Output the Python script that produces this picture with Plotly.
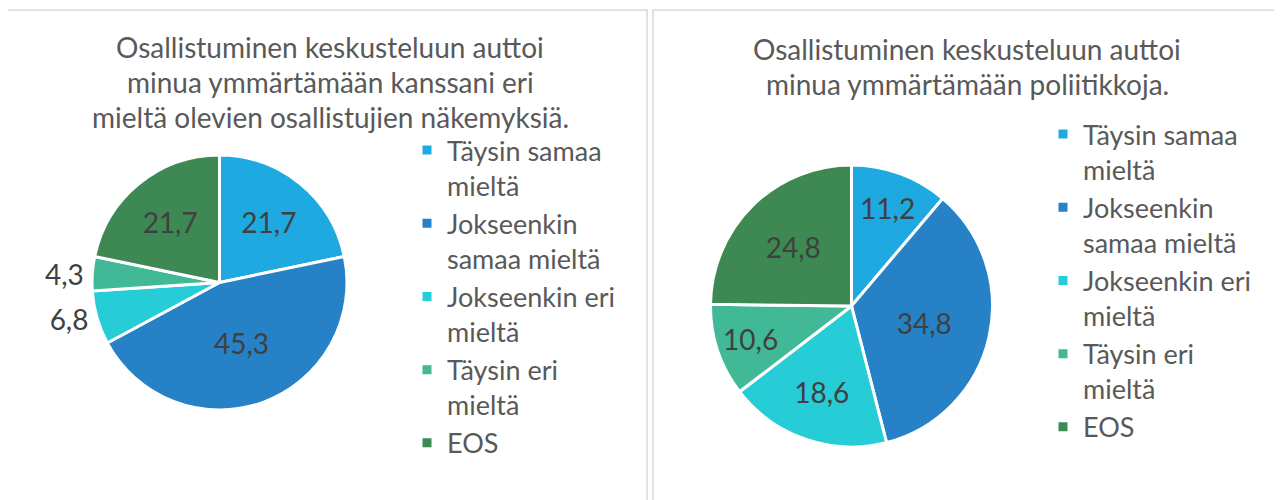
import plotly.graph_objects as go

categories = ["Täysin samaa<br>mieltä", "Jokseenkin<br>samaa mieltä", "Jokseenkin eri<br>mieltä", "Täysin eri<br>mieltä", "EOS"]
colors = ["#1EAAE1", "#2781C6", "#27CDD6", "#42B996", "#3D8853"]

values_left = [21.7, 45.3, 6.8, 4.3, 21.7]
values_right = [11.2, 34.8, 18.6, 10.6, 24.8]

title_left_lines = ["Osallistuminen keskusteluun auttoi",
                    "minua ymmärtämään kanssani eri",
                    "mieltä olevien osallistujien näkemyksiä."]
title_right_lines = ["Osallistuminen keskusteluun auttoi",
                     "minua ymmärtämään poliitikkoja."]

FONT = "Lato"
# page body has an 8px margin; work in reference-pixel coordinates and shift
OX, OY = 8, 8
W, H = 1274, 492

def px(x):
    return (x - OX) / W

def py(y):
    return 1 - (y - OY) / H

def fmt(v):
    return f"{v:.1f}".replace(".", ",")

def dom(cx, cy, r):
    return dict(x=[px(cx - r), px(cx + r)], y=[py(cy + r), py(cy - r)])

fig = go.Figure()
fig.add_trace(go.Pie(
    labels=categories, values=values_left, text=[fmt(v) for v in values_left],
    textinfo="text", sort=False, direction="clockwise", rotation=0,
    marker=dict(colors=colors, line=dict(color="white", width=3)),
    textposition=["inside", "inside", "outside", "outside", "inside"],
    insidetextorientation="horizontal",
    textfont=dict(family=FONT, size=28, color="#404040"),
    domain=dom(219.5, 282.5, 127.5), legend="legend", hoverinfo="label+value",
))
fig.add_trace(go.Pie(
    labels=[c + "\u200b" for c in categories], values=values_right,
    text=[fmt(v) for v in values_right],
    textinfo="text", sort=False, direction="clockwise", rotation=0,
    marker=dict(colors=colors, line=dict(color="white", width=3)),
    textposition="inside", insidetextorientation="horizontal",
    textfont=dict(family=FONT, size=28, color="#404040"),
    domain=dom(851.5, 306, 141), legend="legend2", hoverinfo="label+value",
))

annotations = []
for line, y in zip(title_left_lines, [47, 82, 117]):
    annotations.append(dict(text=line, x=px(330), y=py(y), xref="paper", yref="paper",
                            xanchor="center", yanchor="middle", showarrow=False,
                            font=dict(family=FONT, size=28, color="#595959")))
for line, y in zip(title_right_lines, [49, 84]):
    annotations.append(dict(text=line, x=px(967), y=py(y), xref="paper", yref="paper",
                            xanchor="center", yanchor="middle", showarrow=False,
                            font=dict(family=FONT, size=28, color="#595959")))

legend_style = dict(font=dict(family=FONT, size=27, color="#595959"), valign="top",
                    bgcolor="rgba(0,0,0,0)", xanchor="left", yanchor="top", tracegroupgap=0)
fig.update_layout(
    width=W, height=H, margin=dict(l=0, r=0, t=0, b=0),
    paper_bgcolor="white", plot_bgcolor="white",
    showlegend=True,
    legend=dict(x=px(407), y=py(126), **legend_style),
    legend2=dict(x=px(1043), y=py(110), **legend_style),
    shapes=[
        dict(type="rect", xref="paper", yref="paper", x0=px(5), x1=px(647), y0=py(520), y1=py(10),
             line=dict(color="#D9D9D9", width=1.5), fillcolor="rgba(0,0,0,0)"),
        dict(type="rect", xref="paper", yref="paper", x0=px(653), x1=px(1280), y0=py(520), y1=py(10),
             line=dict(color="#D9D9D9", width=1.5), fillcolor="rgba(0,0,0,0)"),
    ],
    annotations=annotations,
)
fig.write_html("out.html")
